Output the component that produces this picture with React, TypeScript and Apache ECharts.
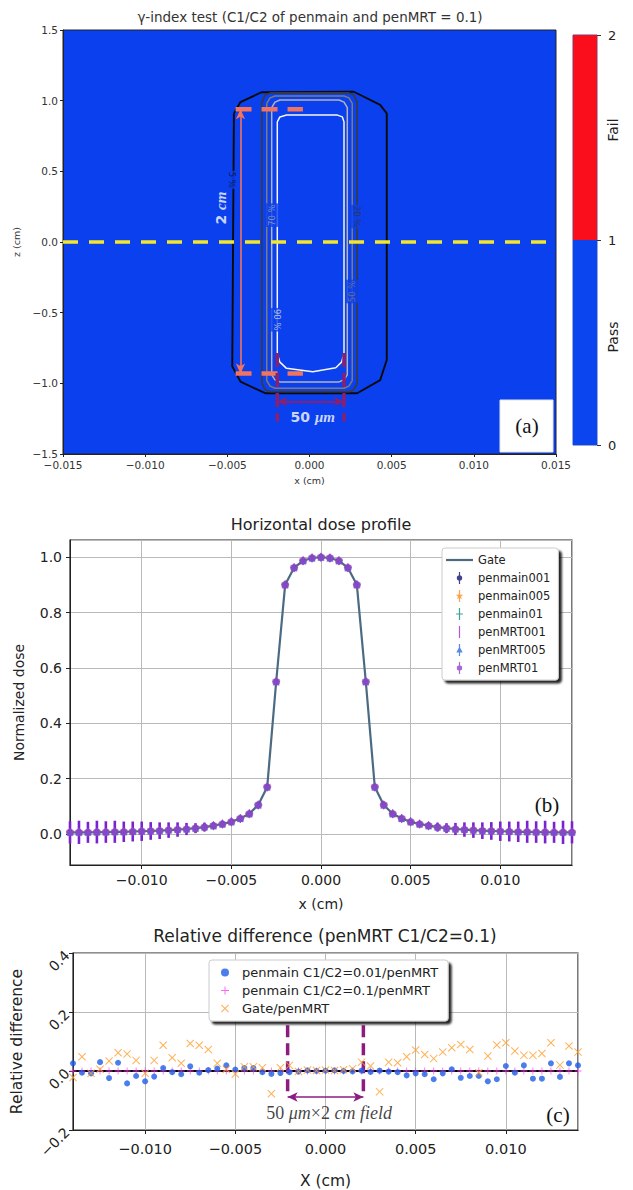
import React, { useEffect, useRef } from 'react';
import * as echarts from 'echarts';

const SANS = 'DejaVu Sans';
const SERIF = 'Liberation Serif';

// ---------------- panel (a): gamma-index map ----------------
const gammaTitle = 'γ-index test (C1/C2 of penmain and penMRT = 0.1)';
const colorbarCategory = ['γ'];
const passSpan = [1];
const failSpan = [1];
const contour5 = [[-0.0046, 0.91], [-0.0042, 0.99], [-0.0029, 1.06], [0.0027, 1.063], [0.0043, 0.97], [0.0047, 0.91], [0.0047, -0.835], [0.0043, -0.977], [0.0029, -1.07], [-0.0027, -1.07], [-0.0042, -0.988], [-0.0047, -0.88], [-0.0046, 0.91]];
const contour20 = [[-0.0029, 0.99], [-0.0027, 1.04], [-0.0024, 1.055], [0.0024, 1.055], [0.0027, 1.04], [0.0029, 0.99], [0.0029, -1.0], [0.0027, -1.045], [0.0024, -1.06], [-0.0024, -1.06], [-0.0027, -1.045], [-0.0029, -1.0], [-0.0029, 0.99]];
const contour50 = [[-0.0026, 0.98], [-0.0024, 1.02], [-0.0021, 1.033], [0.0021, 1.033], [0.0024, 1.02], [0.0026, 0.98], [0.0026, -0.98], [0.0024, -1.02], [0.0021, -1.035], [-0.0021, -1.035], [-0.0024, -1.02], [-0.0026, -0.98], [-0.0026, 0.98]];
const contour70 = [[-0.0023, 0.95], [-0.0021, 0.99], [-0.0018, 1.005], [0.0018, 1.005], [0.0021, 0.99], [0.0023, 0.95], [0.0023, -0.94], [0.0021, -0.975], [0.0018, -0.99], [-0.0018, -0.99], [-0.0021, -0.975], [-0.0023, -0.94], [-0.0023, 0.95]];
const contour90 = [[-0.00196, 0.85], [-0.0018, 0.885], [-0.0014, 0.898], [0.0017, 0.898], [0.002, 0.885], [0.0021, 0.85], [0.0021, -0.79], [0.00195, -0.85], [0.0016, -0.89], [0.0002, -0.918], [-0.0014, -0.894], [-0.0018, -0.85], [-0.00196, -0.79], [-0.00196, 0.85]];
const contourLabelX = [-0.0047, 0.0029, -0.0023, 0.0026, -0.00196];
const contourLabelZ = [0.44, 0.18, 0.19, -0.35, -0.55];
const contourLabelText = ['5 %', '20 %', '70 %', '50 %', '90 %'];
const contourLabelColor = ['#111111', '#333333', '#a0a0a0', '#7a7a7a', '#d8d8d8'];
const contourLabelRotate = [-90, -90, 90, 90, -90];
const centralAxis = [[-0.015, 0], [0.015, 0]];
const fieldLengthTop = [[-0.0045, 0.94], [-0.0004, 0.94]];
const fieldLengthBottom = [[-0.0045, -0.93], [-0.0004, -0.93]];
const fieldLengthArrow = [[-0.0042, 0.94], [-0.0042, -0.93]];
const fieldWidthLeft = [[-0.00196, -0.786], [-0.00196, -1.27]];
const fieldWidthRight = [[0.0021, -0.786], [0.0021, -1.27]];
const fieldWidthArrow = [[-0.00196, -1.13], [0.0021, -1.13]];

// ---------------- panel (b): horizontal dose profile ----------------
const xPos = [-0.014, -0.0135, -0.013, -0.0125, -0.012, -0.0115, -0.011, -0.0105, -0.01, -0.0095, -0.009, -0.0085, -0.008, -0.0075, -0.007, -0.0065, -0.006, -0.0055, -0.005, -0.0045, -0.004, -0.0035, -0.003, -0.0025, -0.002, -0.0015, -0.001, -0.0005, 0, 0.0005, 0.001, 0.0015, 0.002, 0.0025, 0.003, 0.0035, 0.004, 0.0045, 0.005, 0.0055, 0.006, 0.0065, 0.007, 0.0075, 0.008, 0.0085, 0.009, 0.0095, 0.01, 0.0105, 0.011, 0.0115, 0.012, 0.0125, 0.013, 0.0135, 0.014];
const doseProfile = [0.006, 0.006, 0.006, 0.007, 0.007, 0.008, 0.008, 0.009, 0.010, 0.011, 0.012, 0.014, 0.016, 0.018, 0.021, 0.025, 0.030, 0.036, 0.044, 0.056, 0.073, 0.105, 0.170, 0.550, 0.900, 0.962, 0.987, 0.997, 1.000, 0.997, 0.987, 0.962, 0.900, 0.550, 0.170, 0.105, 0.073, 0.056, 0.044, 0.036, 0.030, 0.025, 0.021, 0.018, 0.016, 0.014, 0.012, 0.011, 0.010, 0.009, 0.008, 0.008, 0.007, 0.007, 0.006, 0.006, 0.006];
const errPenMRT001 = [0.040, 0.042, 0.038, 0.041, 0.039, 0.040, 0.037, 0.036, 0.035, 0.032, 0.030, 0.028, 0.026, 0.022, 0.018, 0.016, 0.012, 0.010, 0.008, 0.006, 0.005, 0.004, 0.004, 0.004, 0.003, 0.003, 0.003, 0.003, 0.003, 0.003, 0.003, 0.003, 0.003, 0.004, 0.004, 0.004, 0.005, 0.006, 0.008, 0.010, 0.012, 0.016, 0.018, 0.022, 0.026, 0.028, 0.030, 0.032, 0.035, 0.036, 0.037, 0.040, 0.039, 0.041, 0.038, 0.042, 0.040];
const profileNames = ['penmain001', 'penmain005', 'penmain01', 'penMRT001', 'penMRT005', 'penMRT01'];

// ---------------- panel (c): relative difference ----------------
const relPenmain001 = [0.026, -0.006, -0.008, 0.030, -0.024, 0.028, -0.042, -0.017, -0.035, -0.019, 0.010, -0.004, -0.011, 0.016, -0.006, 0.003, 0.008, 0.019, 0.005, 0.010, 0.010, -0.004, -0.010, -0.007, -0.004, -0.002, 0.002, 0.000, 0.001, 0.002, 0.000, -0.001, 0.001, -0.003, 0.001, -0.002, -0.004, -0.015, -0.008, -0.011, -0.028, -0.008, 0.006, -0.023, -0.017, -0.017, -0.035, -0.028, 0.017, -0.006, 0.019, -0.026, -0.026, 0.026, -0.020, 0.026, 0.019];
const relPenmain01 = [0, 0, 0, 0, 0, 0, 0, 0, 0, 0, 0, 0, 0, 0, 0, 0, 0, 0, 0, 0, 0, 0, 0, 0, 0, 0, 0, 0, 0, 0, 0, 0, 0, 0, 0, 0, 0, 0, 0, 0, 0, 0, 0, 0, 0, 0, 0, 0, 0, 0, 0, 0, 0, 0, 0, 0, 0];
const relGate = [-0.022, 0.048, -0.008, 0.006, 0.034, 0.062, 0.058, 0.036, -0.008, 0.036, 0.087, 0.045, 0.026, 0.093, 0.087, 0.073, 0.026, 0.006, -0.010, 0.014, 0.014, 0.011, -0.077, 0.011, 0.019, -0.002, 0.003, 0.002, 0.003, 0.002, 0.004, 0.008, 0.030, 0.017, -0.070, 0.030, 0.028, 0.048, 0.071, 0.056, 0.042, 0.064, 0.079, 0.090, 0.073, -0.006, 0.051, 0.088, 0.096, 0.068, 0.053, 0.053, 0.059, 0.096, 0.020, 0.085, 0.064];
const relNames = ['penmain C1/C2=0.01/penMRT', 'penmain C1/C2=0.1/penMRT', 'Gate/penMRT'];
const zeroLine = [[-0.014, 0], [0.014, 0]];
const fieldEdgeLeft = [[-0.0021, 0.155], [-0.0021, -0.07]];
const fieldEdgeRight = [[0.0021, 0.155], [0.0021, -0.07]];
const fieldArrow = [[-0.0021, -0.088], [0.0021, -0.088]];

// ---------------- symbols ----------------
const BAR = 'M-0.6,-6h1.2v12h-1.2z';
const STAR = 'M0,-10L2.35,-3.24L9.51,-3.09L3.8,1.24L5.88,8.09L0,4L-5.88,8.09L-3.8,1.24L-9.51,-3.09L-2.35,-3.24Z';
const PLUS = 'M-0.6,-5h1.2v4.4h4.4v1.2h-4.4v4.4h-1.2v-4.4h-4.4v-1.2h4.4z';
const XMARK = 'M-5,-4.1L-4.1,-5L0,-0.9L4.1,-5L5,-4.1L0.9,0L5,4.1L4.1,5L0,0.9L-4.1,5L-5,4.1L-0.9,0Z';
const HEX = 'M0,-5L4.33,-2.5L4.33,2.5L0,5L-4.33,2.5L-4.33,-2.5Z';
const TRI = 'M0,-3.5L3.2,2.5L-3.2,2.5Z';
const CIRC = 'M-2.7,0a2.7,2.7 0 1,1 5.4,0a2.7,2.7 0 1,1 -5.4,0z';
const LINE_ICON = 'path://M0,0h27v2.2h-27z';

const profileColors = ['#14146e', '#ff8c1a', '#12897a', '#9b30d0', '#2b6ee0', '#9241cc'];
const profileSymbols = ['circle', 'path://' + STAR, 'path://' + PLUS, 'path://' + BAR, 'triangle', 'path://' + HEX];
const profileSizes = [6, 9, 8, 9, 7, 8.5];
const profileIcons = [
  'path://' + BAR + ' ' + CIRC,
  'path://' + BAR + ' M0,-4L0.94,-1.3L3.8,-1.24L1.52,0.5L2.35,3.24L0,1.6L-2.35,3.24L-1.52,0.5L-3.8,-1.24L-0.94,-1.3Z',
  'path://' + BAR + ' M-3.4,-0.6h6.8v1.2h-6.8z',
  'path://' + BAR,
  'path://' + BAR + ' ' + TRI,
  'path://' + BAR + ' M0,-3L2.6,-1.5L2.6,1.5L0,3L-2.6,1.5L-2.6,-1.5Z',
];

const fmt3 = (v: number) => (v < -1e-12 ? '\u2212' : '') + Math.abs(v).toFixed(3);
const fmt1 = (v: number) => (v < -1e-12 ? '\u2212' : '') + Math.abs(v).toFixed(1);
const pairs = (ys: number[]) => xPos.map((x, i) => [x, ys[i]]);

function buildOption(): any {
  const gridLine = { show: true, lineStyle: { color: '#b9b9b9', width: 1 } };
  const axisLine = { show: true, onZero: false, lineStyle: { color: '#222', width: 1 } };
  const tick = { show: true, length: 4, lineStyle: { color: '#222' } };

  const contourSeries = (data: number[][], color: string, width: number) => ({
    type: 'line', xAxisIndex: 0, yAxisIndex: 0, data, symbol: 'none', silent: true, z: 2,
    lineStyle: { color, width },
  });

  const series: any[] = [
    contourSeries(contour5, '#0a0a0a', 1.9),
    contourSeries(contour20, '#3a3a3a', 1.6),
    contourSeries(contour50, '#7c7c7c', 1.5),
    contourSeries(contour70, '#b4b4b4', 1.5),
    contourSeries(contour90, '#f6f6f6', 1.5),
    {
      type: 'scatter', xAxisIndex: 0, yAxisIndex: 0, symbolSize: 0, silent: true, z: 5,
      data: contourLabelX.map((x, i) => ({
        value: [x, contourLabelZ[i]],
        label: {
          show: true, position: 'inside', formatter: contourLabelText[i], rotate: contourLabelRotate[i],
          color: contourLabelColor[i], fontSize: 8.5, fontFamily: SANS,
          backgroundColor: '#0b40ee', padding: [2, 1],
        },
      })),
    },
    {
      type: 'line', xAxisIndex: 0, yAxisIndex: 0, data: fieldLengthTop, symbol: 'none', silent: true, z: 6,
      lineStyle: { color: '#f2735f', width: 4.5, type: [16, 10] },
    },
    {
      type: 'line', xAxisIndex: 0, yAxisIndex: 0, data: fieldLengthBottom, symbol: 'none', silent: true, z: 6,
      lineStyle: { color: '#f2735f', width: 4.5, type: [16, 10] },
      markLine: {
        silent: true, symbol: ['arrow', 'arrow'], symbolSize: [7, 10], label: { show: false },
        lineStyle: { color: '#f2735f', width: 1.6, type: 'solid' },
        data: [[{ coord: fieldLengthArrow[0] }, { coord: fieldLengthArrow[1] }]],
      },
    },
    {
      type: 'line', xAxisIndex: 0, yAxisIndex: 0, data: fieldWidthLeft, symbol: 'none', silent: true, z: 6,
      lineStyle: { color: '#8a2070', width: 3.5, type: [14, 6] },
    },
    {
      type: 'line', xAxisIndex: 0, yAxisIndex: 0, data: fieldWidthRight, symbol: 'none', silent: true, z: 6,
      lineStyle: { color: '#8a2070', width: 3.5, type: [14, 6] },
      markLine: {
        silent: true, symbol: ['arrow', 'arrow'], symbolSize: [7, 10], label: { show: false },
        lineStyle: { color: '#8a2070', width: 2, type: 'solid' },
        data: [[{ coord: fieldWidthArrow[0] }, { coord: fieldWidthArrow[1] }]],
      },
    },
    {
      type: 'line', xAxisIndex: 0, yAxisIndex: 0, data: centralAxis, symbol: 'none', silent: true, z: 7,
      lineStyle: { color: '#f3e62e', width: 3.5, type: [15, 11] },
    },
    {
      type: 'scatter', xAxisIndex: 0, yAxisIndex: 0, symbolSize: 0, silent: true, z: 8,
      data: [
        {
          value: [-0.0054, 0.24],
          label: {
            show: true, position: 'inside', rotate: 90, formatter: '{a|2 }{b|cm}',
            rich: {
              a: { color: '#fff', fontFamily: SANS, fontWeight: 'bold', fontSize: 14 },
              b: { color: '#fff', fontFamily: SERIF, fontStyle: 'italic', fontWeight: 'bold', fontSize: 15 },
            },
          },
        },
        {
          value: [0.0002, -1.24],
          label: {
            show: true, position: 'inside', formatter: '{a|50 }{b|μm}',
            rich: {
              a: { color: '#fff', fontFamily: SANS, fontWeight: 'bold', fontSize: 14 },
              b: { color: '#fff', fontFamily: SERIF, fontStyle: 'italic', fontWeight: 'bold', fontSize: 15 },
            },
          },
        },
      ],
    },
    // colorbar
    {
      type: 'bar', xAxisIndex: 1, yAxisIndex: 1, stack: 'cb', data: passSpan, barWidth: '100%', silent: true,
      itemStyle: { color: '#0a45f0' },
    },
    {
      type: 'bar', xAxisIndex: 1, yAxisIndex: 1, stack: 'cb', data: failSpan, barWidth: '100%', silent: true,
      itemStyle: { color: '#fb0e1c' },
    },
    // panel (b)
    {
      name: 'Gate', type: 'line', xAxisIndex: 2, yAxisIndex: 2, data: pairs(doseProfile), symbol: 'none',
      lineStyle: { color: '#4c6a82', width: 2.2 }, itemStyle: { color: '#4c6a82' }, z: 2,
    },
    {
      type: 'custom', xAxisIndex: 2, yAxisIndex: 2, silent: true, z: 3,
      data: xPos.map((x, i) => [x, doseProfile[i], errPenMRT001[i]]),
      encode: { x: 0, y: 1 },
      renderItem: (_p: any, api: any) => {
        const x = api.value(0);
        const y = api.value(1);
        const e = api.value(2);
        const a = api.coord([x, y - e]);
        const b = api.coord([x, y + e]);
        return {
          type: 'line',
          shape: { x1: a[0], y1: a[1], x2: b[0], y2: b[1] },
          style: { stroke: '#7b22cf', lineWidth: 2.6 },
        };
      },
    },
    ...profileNames.map((name, k) => ({
      name, type: 'scatter', xAxisIndex: 2, yAxisIndex: 2, data: pairs(doseProfile),
      symbol: profileSymbols[k], symbolSize: profileSizes[k], symbolKeepAspect: true,
      itemStyle: { color: profileColors[k] }, z: 4 + k,
    })),
    // panel (c)
    {
      type: 'line', xAxisIndex: 3, yAxisIndex: 3, data: zeroLine, symbol: 'none', silent: true, z: 2,
      lineStyle: { color: '#000', width: 1.8 },
    },
    {
      name: relNames[1], type: 'scatter', xAxisIndex: 3, yAxisIndex: 3, data: pairs(relPenmain01),
      symbol: 'path://' + PLUS, symbolSize: 7, itemStyle: { color: '#ff40f2' }, z: 3,
    },
    {
      name: relNames[0], type: 'scatter', xAxisIndex: 3, yAxisIndex: 3, data: pairs(relPenmain001),
      symbol: 'circle', symbolSize: 6, itemStyle: { color: '#1f5ee6' }, z: 4,
    },
    {
      name: relNames[2], type: 'scatter', xAxisIndex: 3, yAxisIndex: 3, data: pairs(relGate),
      symbol: 'path://' + XMARK, symbolSize: 8, itemStyle: { color: '#ff9d2b' }, z: 5,
    },
    {
      type: 'line', xAxisIndex: 3, yAxisIndex: 3, data: fieldEdgeLeft, symbol: 'none', silent: true, z: 3,
      lineStyle: { color: '#8c1c80', width: 3.5, type: [12, 6] },
    },
    {
      type: 'line', xAxisIndex: 3, yAxisIndex: 3, data: fieldEdgeRight, symbol: 'none', silent: true, z: 3,
      lineStyle: { color: '#8c1c80', width: 3.5, type: [12, 6] },
      markLine: {
        silent: true, symbol: ['arrow', 'arrow'], symbolSize: [7, 10], label: { show: false },
        lineStyle: { color: '#8c1c80', width: 1.6, type: 'solid' },
        data: [[{ coord: fieldArrow[0] }, { coord: fieldArrow[1] }]],
      },
    },
    {
      type: 'scatter', xAxisIndex: 3, yAxisIndex: 3, symbolSize: 0, silent: true, z: 6,
      data: [
        {
          value: [0.0002, -0.141],
          label: {
            show: true, position: 'inside', formatter: '{n|50 }{i|μm}{n|×2 }{i|cm field}',
            rich: {
              n: { color: '#111', fontFamily: SERIF, fontSize: 18 },
              i: { color: '#111', fontFamily: SERIF, fontStyle: 'italic', fontSize: 18 },
            },
          },
        },
      ],
    },
  ];

  return {
    animation: false,
    backgroundColor: '#ffffff',
    textStyle: { fontFamily: SANS },
    title: [
      {
        text: gammaTitle, left: 310, top: 10, textAlign: 'center', padding: 0,
        textStyle: { fontFamily: SANS, fontSize: 13.5, fontWeight: 'normal', color: '#333' },
      },
      {
        text: 'Horizontal dose profile', left: 321, top: 516, textAlign: 'center', padding: 0,
        textStyle: { fontFamily: SANS, fontSize: 16, fontWeight: 'normal', color: '#222' },
      },
      {
        text: 'Relative difference (penMRT C1/C2=0.1)', left: 325, top: 927, textAlign: 'center', padding: 0,
        textStyle: { fontFamily: SANS, fontSize: 17, fontWeight: 'normal', color: '#222' },
      },
    ],
    grid: [
      { left: 63, top: 30, width: 493, height: 424, show: true, backgroundColor: '#0b40ee', borderColor: '#222', borderWidth: 1 },
      { left: 573, top: 35, width: 24, height: 410, show: true, backgroundColor: 'transparent', borderColor: '#3355aa', borderWidth: 1 },
      { left: 70, top: 540, width: 502, height: 325, show: true, backgroundColor: '#fff', borderColor: '#222', borderWidth: 1.2 },
      { left: 73, top: 953, width: 505, height: 177, show: true, backgroundColor: '#fff', borderColor: '#222', borderWidth: 1.2 },
    ],
    xAxis: [
      {
        gridIndex: 0, type: 'value', min: -0.015, max: 0.015, interval: 0.005,
        axisLine, axisTick: { ...tick, length: 3 }, splitLine: { show: false },
        axisLabel: { fontSize: 10.5, color: '#333', fontFamily: SANS, formatter: fmt3, margin: 5 },
        name: 'x (cm)', nameLocation: 'middle', nameGap: 21,
        nameTextStyle: { fontSize: 9.5, color: '#333', fontFamily: SANS },
      },
      { gridIndex: 1, type: 'category', data: colorbarCategory, show: false },
      {
        gridIndex: 2, type: 'value', min: -0.014, max: 0.014, splitNumber: 5,
        axisLine, axisTick: tick, splitLine: gridLine,
        axisLabel: { fontSize: 14, color: '#222', fontFamily: SANS, formatter: fmt3, margin: 8, showMinLabel: false, showMaxLabel: false },
        name: 'x (cm)', nameLocation: 'middle', nameGap: 32,
        nameTextStyle: { fontSize: 14, color: '#222', fontFamily: SANS },
      },
      {
        gridIndex: 3, type: 'value', min: -0.014, max: 0.014, splitNumber: 5,
        axisLine, axisTick: tick, splitLine: gridLine,
        axisLabel: { fontSize: 14.5, color: '#222', fontFamily: SANS, formatter: fmt3, margin: 11, showMinLabel: false, showMaxLabel: false },
        name: 'X (cm)', nameLocation: 'middle', nameGap: 43,
        nameTextStyle: { fontSize: 15.5, color: '#222', fontFamily: SANS },
      },
    ],
    yAxis: [
      {
        gridIndex: 0, type: 'value', min: -1.5, max: 1.5, interval: 0.5,
        axisLine, axisTick: { ...tick, length: 3 }, splitLine: { show: false },
        axisLabel: { fontSize: 10.5, color: '#333', fontFamily: SANS, formatter: fmt1, margin: 5 },
        name: 'z (cm)', nameLocation: 'middle', nameGap: 37, nameRotate: 90,
        nameTextStyle: { fontSize: 9.5, color: '#333', fontFamily: SANS },
      },
      {
        gridIndex: 1, type: 'value', min: 0, max: 2, interval: 1, position: 'right',
        axisLine: { show: false }, axisTick: { show: true, length: 4, lineStyle: { color: '#333' } }, splitLine: { show: false },
        axisLabel: { fontSize: 13, color: '#222', fontFamily: SANS, margin: 11 },
      },
      {
        gridIndex: 2, type: 'value', min: -0.112, max: 1.062,
        axisLine, axisTick: tick, splitLine: gridLine,
        axisLabel: { fontSize: 14, color: '#222', fontFamily: SANS, formatter: fmt1, margin: 8, showMinLabel: false, showMaxLabel: false },
        name: 'Normalized dose', nameLocation: 'middle', nameGap: 44, nameRotate: 90,
        nameTextStyle: { fontSize: 14, color: '#222', fontFamily: SANS },
      },
      {
        gridIndex: 3, type: 'value', min: -0.2, max: 0.4, interval: 0.2,
        axisLine, axisTick: tick, splitLine: gridLine,
        axisLabel: { fontSize: 14, color: '#222', fontFamily: SANS, formatter: fmt1, margin: 6, rotate: 45 },
        name: 'Relative difference', nameLocation: 'middle', nameGap: 48, nameRotate: 90,
        nameTextStyle: { fontSize: 15.5, color: '#222', fontFamily: SANS },
      },
    ],
    legend: [
      {
        orient: 'vertical', left: 442, top: 548, padding: [6, 8, 6, 4], itemGap: 6, itemWidth: 27, itemHeight: 12,
        selectedMode: false,
        data: [
          { name: 'Gate', icon: LINE_ICON, itemStyle: { color: '#4c6a82' } },
          ...profileNames.map((n, k) => ({ name: n, icon: profileIcons[k], itemStyle: { color: profileColors[k] } })),
        ],
        textStyle: { fontFamily: SANS, fontSize: 11.5, color: '#222' },
        backgroundColor: '#fff', borderColor: '#cccccc', borderWidth: 1, borderRadius: 3,
        shadowColor: 'rgba(0,0,0,0.85)', shadowBlur: 2, shadowOffsetX: 3, shadowOffsetY: 3,
      },
      {
        orient: 'vertical', left: 209, top: 960, padding: [6, 10, 6, 12], itemGap: 5, itemWidth: 24, itemHeight: 8,
        selectedMode: false,
        data: [
          { name: relNames[0], icon: 'path://' + CIRC },
          { name: relNames[1], icon: 'path://' + PLUS },
          { name: relNames[2], icon: 'path://' + XMARK },
        ],
        textStyle: { fontFamily: SANS, fontSize: 13, color: '#222' },
        backgroundColor: '#fff', borderColor: '#cccccc', borderWidth: 1, borderRadius: 3,
        shadowColor: 'rgba(0,0,0,0.85)', shadowBlur: 2, shadowOffsetX: 3, shadowOffsetY: 3,
      },
    ],
    graphic: [
      { type: 'rect', shape: { x: 500, y: 400, width: 53, height: 52 }, style: { fill: '#fff', stroke: '#e6e6e6' }, z: 50 },
      { type: 'text', x: 527, y: 426, z: 51, style: { text: '(a)', fontFamily: SERIF, fontSize: 21, fill: '#111', align: 'center', verticalAlign: 'middle' } },
      { type: 'text', x: 547, y: 805, z: 51, style: { text: '(b)', fontFamily: SERIF, fontSize: 21, fill: '#111', align: 'center', verticalAlign: 'middle' } },
      { type: 'text', x: 558, y: 1115, z: 51, style: { text: '(c)', fontFamily: SERIF, fontSize: 21, fill: '#111', align: 'center', verticalAlign: 'middle' } },
      { type: 'text', x: 613, y: 130, rotation: Math.PI / 2, z: 51, style: { text: 'Fail', fontFamily: SANS, fontSize: 14, fill: '#222', align: 'center', verticalAlign: 'middle' } },
      { type: 'text', x: 613, y: 337, rotation: Math.PI / 2, z: 51, style: { text: 'Pass', fontFamily: SANS, fontSize: 14, fill: '#222', align: 'center', verticalAlign: 'middle' } },
    ],
    series,
  };
}

export default function App() {
  const ref = useRef<HTMLDivElement>(null);
  useEffect(() => {
    if (!ref.current) return;
    const chart = echarts.init(ref.current, null, { renderer: 'svg' });
    chart.setOption(buildOption());
    return () => chart.dispose();
  }, []);
  return (
    <div
      ref={ref}
      style={{ position: 'fixed', left: 0, top: 0, width: 633, height: 1190, background: '#fff' }}
    />
  );
}
